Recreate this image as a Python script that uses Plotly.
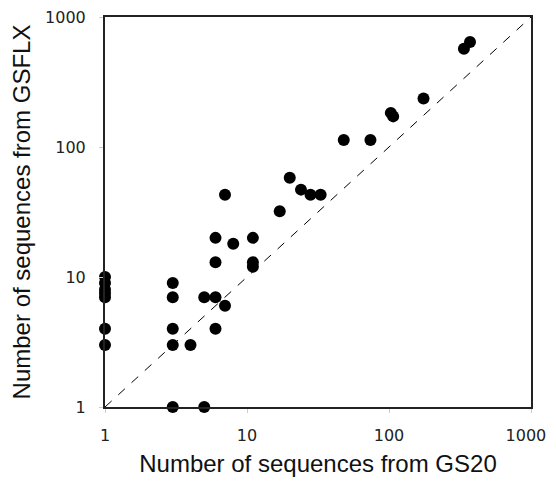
import plotly.graph_objects as go

gs20 = [1, 1, 1, 1, 1, 1, 1,
        3, 3, 3, 3, 3,
        4, 5, 5,
        6, 6, 6, 6, 7, 7, 8,
        11, 11, 11, 17, 20, 24, 28, 33,
        48, 74, 103, 107, 175, 337, 372]
gsflx = [10, 9, 8, 7.5, 7, 4, 3,
         9, 7, 4, 3, 1,
         3, 7, 1,
         20, 13, 7, 4, 6, 43, 18,
         20, 13, 12, 32, 58, 47, 43, 43,
         113, 113, 183, 172, 236, 571, 643]
diag = [1, 1000]
tick_vals = [1, 10, 100, 1000]
tick_text = ["1", "10", "100", "1000"]
# trailing no-break spaces nudge the last x label left so it stays on the page
x_tick_text = ["1", "10", "100", "1000\u00a0\u00a0"]

fig = go.Figure()
fig.add_trace(go.Scatter(x=diag, y=diag, mode="lines",
                         line=dict(color="black", width=1, dash="dash"),
                         hoverinfo="skip", showlegend=False))
fig.add_trace(go.Scatter(x=gs20, y=gsflx, mode="markers",
                         marker=dict(color="black", size=12),
                         cliponaxis=False, showlegend=False))

axis_common = dict(type="log", showgrid=False, zeroline=False, automargin=False,
                   showline=True, linecolor="#222", linewidth=2, mirror=True,
                   ticks="outside", ticklen=4, tickcolor="#cccccc",
                   tickvals=tick_vals, ticklabeloverflow="allow",
                   tickfont=dict(family="DejaVu Sans", size=16, color="#222"))
title_font = dict(family="Liberation Sans", size=24, color="#111")
fig.update_xaxes(range=[0, 3], ticklabelstandoff=9, ticktext=x_tick_text,
                 title=dict(text="Number of sequences from GS20", font=title_font, standoff=12),
                 **axis_common)
fig.update_yaxes(range=[0, 3], ticklabelstandoff=10, ticktext=tick_text,
                 title=dict(text="Number of sequences from GSFLX", font=title_font, standoff=16),
                 **axis_common)
# page body has an 8px margin; the figure is sized/offset to compensate
fig.update_layout(width=548, height=469, plot_bgcolor="white", paper_bgcolor="white",
                  margin=dict(l=97, r=25, t=9, b=70))
fig.write_html("out.html")
